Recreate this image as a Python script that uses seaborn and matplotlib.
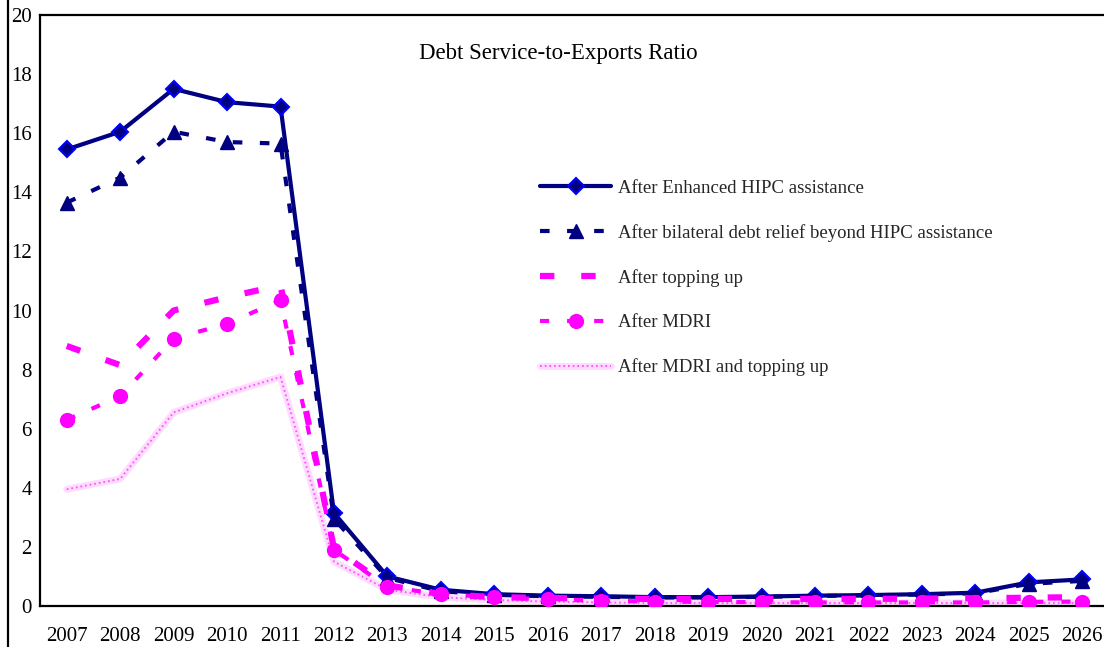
import numpy as np
import matplotlib
matplotlib.use("Agg")
import matplotlib.pyplot as plt
from matplotlib.lines import Line2D
from matplotlib.legend_handler import HandlerTuple
import seaborn as sns

years = [str(y) for y in range(2007, 2027)]

enhanced_hipc = [15.45, 16.05, 17.5, 17.05, 16.9, 3.15, 1.0, 0.55, 0.4, 0.35,
                 0.33, 0.3, 0.3, 0.32, 0.35, 0.37, 0.4, 0.45, 0.8, 0.9]
bilateral = [13.65, 14.5, 16.05, 15.7, 15.65, 2.95, 0.95, 0.5, 0.38, 0.33,
             0.31, 0.29, 0.29, 0.31, 0.34, 0.36, 0.39, 0.43, 0.75, 0.85]
topping_up = [8.8, 8.15, 10.0, 10.45, 10.85, 1.95, 0.7, 0.4, 0.3, 0.27,
              0.25, 0.24, 0.24, 0.24, 0.24, 0.24, 0.25, 0.26, 0.28, 0.3]
mdri = [6.3, 7.1, 9.05, 9.55, 10.35, 1.9, 0.65, 0.4, 0.3, 0.22,
        0.18, 0.15, 0.14, 0.13, 0.12, 0.12, 0.12, 0.12, 0.14, 0.15]
mdri_topping = [3.95, 4.3, 6.55, 7.2, 7.75, 1.5, 0.55, 0.3, 0.2, 0.15,
                0.12, 0.1, 0.1, 0.1, 0.1, 0.1, 0.1, 0.1, 0.1, 0.1]

labels = ["After Enhanced HIPC assistance",
          "After bilateral debt relief beyond HIPC assistance",
          "After topping up",
          "After MDRI",
          "After MDRI and topping up"]

title = "Debt Service-to-Exports Ratio"

sns.set_theme(style="white")
plt.rcParams["font.family"] = ["Liberation Serif", "DejaVu Serif"]

W, H = 1104, 647
fig = plt.figure(figsize=(W / 100, H / 100), dpi=100)
ax = fig.add_axes([40 / W, 41 / H, 1069 / W, 591 / H])

x = np.arange(len(years))
navy = "#000080"
magenta = "#ff00ff"

# band: pale pink base with a dotted magenta overlay
sns.lineplot(x=x, y=mdri_topping, ax=ax, color="#ffdcff", lw=5,
             solid_joinstyle="round", zorder=2)
sns.lineplot(x=x, y=mdri_topping, ax=ax, color="#ff55ff", lw=1.4,
             linestyle=(0, (0.9, 1.5)), zorder=2.1)

sns.lineplot(x=x, y=enhanced_hipc, ax=ax, color=navy, lw=3,
             marker="D", markersize=8, markerfacecolor=navy,
             markeredgecolor="#0000ff", markeredgewidth=1.5, zorder=3)
sns.lineplot(x=x, y=bilateral, ax=ax, color=navy, lw=3,
             linestyle=(0, (2.3, 4.2)),
             marker="^", markersize=10, markerfacecolor=navy,
             markeredgecolor=navy, markeredgewidth=1, zorder=4)
sns.lineplot(x=x, y=topping_up, ax=ax, color=magenta, lw=4.5,
             linestyle=(0, (2.3, 4.3)), zorder=5)
sns.lineplot(x=x, y=mdri, ax=ax, color=magenta, lw=3,
             linestyle=(0, (2.2, 4.3)),
             marker="o", markersize=11, markerfacecolor=magenta,
             markeredgecolor=magenta, markeredgewidth=0, zorder=6)

lines = ax.get_lines()
band_base, band_dots, l1, l2, l3, l4 = lines
handles = [l1, l2, l3, l4, (band_base, band_dots)]
ax.legend(handles, labels, loc="center left",
          bbox_to_anchor=(500 / 1069, (606 - 278) / 591),
          frameon=False, fontsize=13.5, handlelength=3.8,
          handletextpad=0.35, labelspacing=1.45, borderpad=0,
          borderaxespad=0,
          handler_map={tuple: HandlerTuple(ndivide=1, pad=0)})

ax.text((558 - 40) / 1069, (606 - 53) / 591, title, transform=ax.transAxes,
        ha="center", va="center", fontsize=16.5, color="black")

ax.set_xlim(-0.5, len(years) - 0.5)
ax.set_ylim(0, 20)
ax.set_yticks(np.arange(0, 21, 2))
ax.set_xticks(np.arange(-0.5, len(years), 1))
ax.set_xticklabels([])
ax.set_xticks(x, minor=True)
ax.set_xticklabels(years, minor=True)
ax.set_xlabel("")
ax.set_ylabel("")

ax.tick_params(axis="both", which="major", direction="in", length=5,
               width=1.5, color="black", labelsize=15, labelcolor="black")
ax.tick_params(axis="y", pad=6)
ax.tick_params(axis="x", which="minor", length=0, pad=15,
               labelsize=15, labelcolor="black")

for side in ["left", "bottom", "top", "right"]:
    ax.spines[side].set_visible(True)
    ax.spines[side].set_color("black")
    ax.spines[side].set_linewidth(1.6)

fig.add_artist(Line2D([7.5 / W, 7.5 / W], [0, 1], color="black", lw=1.6,
                      transform=fig.transFigure))

fig.savefig("out.png", dpi=100, facecolor="white")
